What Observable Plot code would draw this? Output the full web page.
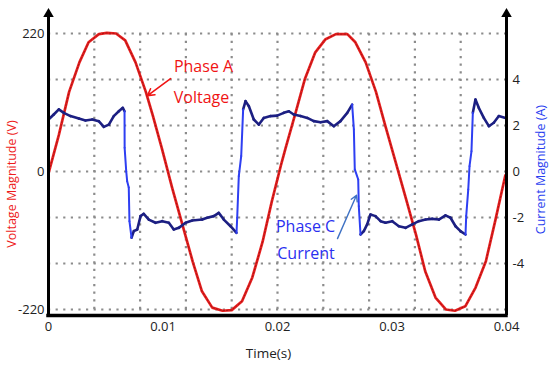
<!DOCTYPE html>
<html><head><meta charset="utf-8">
<script src="https://cdn.jsdelivr.net/npm/d3@7"></script>
<script src="https://cdn.jsdelivr.net/npm/@observablehq/plot@0.6"></script>
<style>body{margin:0;background:#fff;}</style>
</head><body><div id="chart"></div>
<script>
// Phase A voltage (V) vs time (s)
const voltT = [0, 0.0009, 0.0018, 0.0027, 0.0035, 0.0044, 0.0051, 0.0059, 0.0067, 0.0076, 0.0085, 0.0091, 0.0099, 0.0108, 0.0117, 0.0126, 0.0134, 0.0143, 0.0152, 0.0160, 0.0169, 0.0178, 0.0187, 0.0195, 0.0203, 0.0207, 0.0216, 0.0224, 0.0233, 0.0242, 0.0251, 0.0261, 0.0268, 0.0277, 0.0286, 0.0294, 0.0303, 0.0312, 0.0321, 0.0329, 0.0338, 0.0347, 0.0355, 0.0364, 0.0373, 0.0382, 0.0390, 0.0399];
const voltV = [-3, 58, 127, 174, 206, 219, 221, 220, 209, 174, 127, 90, 37, -26, -85, -144, -191, -217, -222, -221, -207, -169, -112, -48, 10, 37, 95, 148, 190, 211, 219, 219, 206, 174, 127, 74, 16, -42, -101, -159, -201, -220, -222, -215, -185, -143, -80, -6];
// Phase C current (A) vs time (s)
const curT = [0, 0.00046, 0.0009, 0.00134, 0.00192, 0.00265, 0.00323, 0.00382, 0.00439, 0.00483, 0.00527, 0.0057, 0.00614, 0.00649, 0.00664, 0.00665, 0.00679, 0.00687, 0.00701, 0.00707, 0.00725, 0.00745, 0.00775, 0.00804, 0.00832, 0.00876, 0.00935, 0.00993, 0.01051, 0.01094, 0.01138, 0.01197, 0.01255, 0.01342, 0.01386, 0.01444, 0.01487, 0.01531, 0.0159, 0.01642, 0.01648, 0.01662, 0.01683, 0.017, 0.01721, 0.0175, 0.01793, 0.01837, 0.0188, 0.01939, 0.01997, 0.02055, 0.02099, 0.02142, 0.02201, 0.0226, 0.02317, 0.02376, 0.02434, 0.02492, 0.0255, 0.02609, 0.02652, 0.02667, 0.02675, 0.02705, 0.0271, 0.02725, 0.02754, 0.02783, 0.02812, 0.02856, 0.029, 0.02943, 0.03002, 0.0306, 0.03118, 0.03177, 0.03234, 0.03293, 0.03351, 0.03409, 0.03467, 0.03511, 0.03555, 0.03598, 0.03642, 0.03648, 0.03666, 0.03677, 0.03694, 0.03706, 0.03729, 0.03758, 0.03802, 0.03846, 0.03889, 0.03933, 0.03991];
const curA = [2.26, 2.48, 2.70, 2.55, 2.41, 2.30, 2.22, 2.26, 2.19, 1.94, 2.04, 2.41, 2.62, 2.77, 2.62, 1.03, 0, -0.42, -0.7, -2.16, -2.88, -2.59, -2.52, -1.94, -1.84, -2.09, -2.23, -2.16, -2.23, -2.52, -2.45, -2.23, -2.13, -2.09, -2.01, -1.94, -1.80, -2.09, -2.38, -2.67, -2.01, -0.2, 0.67, 2.70, 3.06, 2.84, 2.26, 2.04, 2.33, 2.41, 2.43, 2.55, 2.62, 2.48, 2.41, 2.33, 2.19, 2.14, 2.19, 1.97, 2.19, 2.55, 2.91, 1.83, 0.09, -0.35, -1.51, -2.74, -2.59, -2.30, -1.87, -1.94, -2.16, -2.23, -2.16, -2.38, -2.45, -2.30, -2.16, -2.09, -2.06, -2.09, -1.91, -2.01, -2.38, -2.59, -2.74, -1.94, -0.78, 0.23, 0.88, 2.55, 3.13, 2.77, 2.33, 1.97, 2.12, 2.41, 2.33];

const timeTicks = [0, 0.01, 0.02, 0.03, 0.04];
const voltTicks = [-220, 0, 220];
const curTicks = [-4, -2, 0, 2, 4];
const gridT = [0.004, 0.008, 0.012, 0.016, 0.02, 0.024, 0.028, 0.032, 0.036];
const gridV = [-220, -146.67, -73.33, 0, 73.33, 146.67, 220];

const K = 220 / 6; // volts per ampere on the shared vertical scale
const yDomain = [-229.6, 259.9];
const xDomain = [0, 0.04];

const volt = voltT.map((t, i) => ({t, v: voltV[i]}));
const cur = curT.map((t, i) => ({t, a: curA[i], v: curA[i] * K}));
const segs = cur.slice(1).map((d, i) => {
  const p = cur[i];
  const slope = Math.abs(d.a - p.a) / (d.t - p.t);
  const steep = slope > 3500 || Math.max(Math.abs(d.a), Math.abs(p.a)) < 1.9;
  return {t1: p.t, v1: p.v, t2: d.t, v2: d.v, steep};
});

const dotStyle = {stroke: "#8c8c8c", strokeWidth: 2.2, strokeDasharray: "2.2,5.4"};

const chart = Plot.plot({
  width: 550, height: 367,
  marginLeft: 48, marginRight: 44, marginTop: 8, marginBottom: 52,
  x: {domain: xDomain, axis: null},
  y: {domain: yDomain, axis: null},
  style: {fontFamily: "Open Sans", fontSize: "13px", color: "#222", background: "#fff"},
  marks: [
    Plot.ruleY(gridV, {x1: 0, x2: 0.04, ...dotStyle}),
    Plot.ruleX(gridT, {y1: -220, y2: 220, ...dotStyle}),
    Plot.line(volt, {x: "t", y: "v", stroke: "#ea1f1f", strokeWidth: 2.7}),
    Plot.line(volt, {x: "t", y: "v", stroke: "#6e0f0f", strokeWidth: 1, strokeOpacity: 0.55, strokeDasharray: "1.5,2"}),
    Plot.link(segs.filter(d => !d.steep), {x1: "t1", y1: "v1", x2: "t2", y2: "v2", stroke: "#1c1f82", strokeWidth: 2.6, strokeLinecap: "round"}),
    Plot.link(segs.filter(d => d.steep), {x1: "t1", y1: "v1", x2: "t2", y2: "v2", stroke: "#2e3ff2", strokeWidth: 2, strokeLinecap: "round"}),
    // axis lines with arrow heads
    Plot.ruleX([0, 0.04], {y1: -229.6, y2: 246, stroke: "#000", strokeWidth: 3}),
    Plot.ruleY([-229.6], {x1: 0, x2: 0.04, stroke: "#000", strokeWidth: 3.5, strokeLinecap: "square"}),
    Plot.dot([0, 0.04], {x: d => d, y: 251, symbol: "triangle", r: 3.9, fill: "#000", stroke: null}),
    Plot.axisX({ticks: timeTicks, tickSize: 0, tickPadding: 6, fontSize: 13, label: null,
      tickFormat: d => d === 0 ? "0" : d.toFixed(2)}),
    Plot.axisY({ticks: voltTicks, tickSize: 0, tickPadding: 4, fontSize: 13, label: null, tickFormat: d => String(d)}),
    Plot.axisY({anchor: "right", ticks: curTicks.map(a => a * K), tickSize: 0, tickPadding: 6, fontSize: 13, label: null,
      tickFormat: d => String(Math.round(d / K))}),
    // axis titles
    Plot.text(["Time(s)"], {frameAnchor: "bottom", dx: -9, dy: 38, fontSize: 13.5, fill: "#222", lineAnchor: "middle"}),
    Plot.text(["Voltage Magnitude (V)"], {x: -0.00316, y: -20, rotate: -90, fontSize: 12.5, fill: "#ee1c1c", lineAnchor: "middle"}),
    Plot.text(["Current Magnitude (A)"], {x: 0.04297, y: 3, rotate: -90, fontSize: 12.5, fill: "#2a3ff0", lineAnchor: "middle"}),
    // annotations
    Plot.text(["Phase A"], {x: 0.01354, y: 167, fontSize: 16, fill: "#f01414", lineAnchor: "middle"}),
    Plot.text(["Voltage"], {x: 0.01336, y: 118, fontSize: 16, fill: "#f01414", lineAnchor: "middle"}),
    Plot.arrow([0], {x1: 0.01066, y1: 148, x2: 0.00865, y2: 121, stroke: "#f01414", strokeWidth: 1.6, headLength: 7}),
    Plot.text(["Phase C"], {x: 0.02245, y: -88, fontSize: 16, fill: "#2a2ff0", lineAnchor: "middle"}),
    Plot.text(["Current"], {x: 0.02249, y: -132, fontSize: 16, fill: "#2a2ff0", lineAnchor: "middle"}),
    Plot.arrow([0], {x1: 0.02524, y1: -107, x2: 0.0269, y2: -38, stroke: "#3f72c4", strokeWidth: 1.4, headLength: 7})
  ]
});
document.getElementById("chart").appendChild(chart);
</script>
</body></html>
